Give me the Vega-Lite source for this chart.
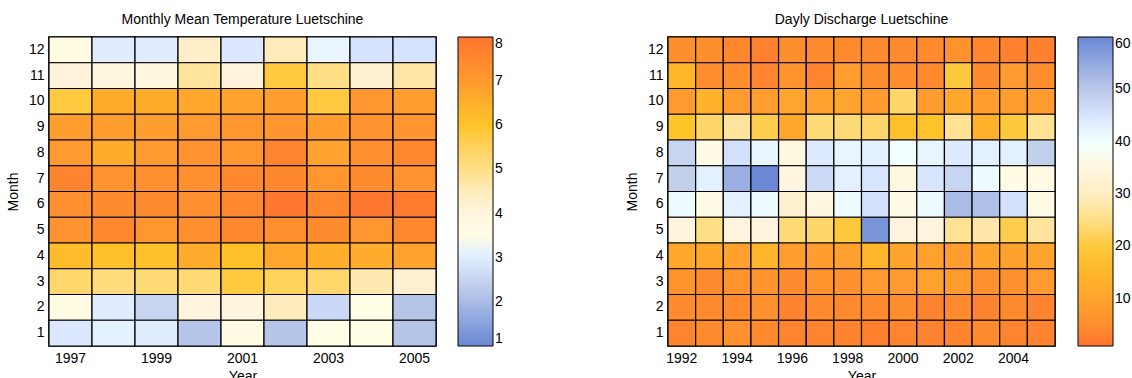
{
  "$schema": "https://vega.github.io/schema/vega-lite/v6.json",
  "padding": {"left": 5, "top": 12, "right": 0, "bottom": 0},
  "datasets": {
    "temp": [
      {"year":1997,"month":12,"t":3.7},{"year":1998,"month":12,"t":3.0},{"year":1999,"month":12,"t":3.0},{"year":2000,"month":12,"t":4.4},{"year":2001,"month":12,"t":2.9},{"year":2002,"month":12,"t":4.5},{"year":2003,"month":12,"t":3.2},{"year":2004,"month":12,"t":2.8},{"year":2005,"month":12,"t":2.8},
      {"year":1997,"month":11,"t":4.2},{"year":1998,"month":11,"t":4.0},{"year":1999,"month":11,"t":3.9},{"year":2000,"month":11,"t":4.8},{"year":2001,"month":11,"t":4.2},{"year":2002,"month":11,"t":5.8},{"year":2003,"month":11,"t":5.0},{"year":2004,"month":11,"t":4.3},{"year":2005,"month":11,"t":4.7},
      {"year":1997,"month":10,"t":5.8},{"year":1998,"month":10,"t":6.6},{"year":1999,"month":10,"t":6.6},{"year":2000,"month":10,"t":6.7},{"year":2001,"month":10,"t":6.8},{"year":2002,"month":10,"t":6.9},{"year":2003,"month":10,"t":5.8},{"year":2004,"month":10,"t":7.1},{"year":2005,"month":10,"t":6.9},
      {"year":1997,"month":9,"t":6.9},{"year":1998,"month":9,"t":6.9},{"year":1999,"month":9,"t":6.9},{"year":2000,"month":9,"t":7.0},{"year":2001,"month":9,"t":7.1},{"year":2002,"month":9,"t":7.1},{"year":2003,"month":9,"t":6.9},{"year":2004,"month":9,"t":7.2},{"year":2005,"month":9,"t":7.1},
      {"year":1997,"month":8,"t":7.0},{"year":1998,"month":8,"t":6.6},{"year":1999,"month":8,"t":7.0},{"year":2000,"month":8,"t":7.2},{"year":2001,"month":8,"t":7.1},{"year":2002,"month":8,"t":7.6},{"year":2003,"month":8,"t":6.8},{"year":2004,"month":8,"t":7.3},{"year":2005,"month":8,"t":7.5},
      {"year":1997,"month":7,"t":7.6},{"year":1998,"month":7,"t":7.2},{"year":1999,"month":7,"t":7.3},{"year":2000,"month":7,"t":7.3},{"year":2001,"month":7,"t":7.5},{"year":2002,"month":7,"t":7.5},{"year":2003,"month":7,"t":7.1},{"year":2004,"month":7,"t":7.4},{"year":2005,"month":7,"t":7.2},
      {"year":1997,"month":6,"t":7.3},{"year":1998,"month":6,"t":7.4},{"year":1999,"month":6,"t":7.4},{"year":2000,"month":6,"t":7.3},{"year":2001,"month":6,"t":7.5},{"year":2002,"month":6,"t":7.9},{"year":2003,"month":6,"t":7.5},{"year":2004,"month":6,"t":7.9},{"year":2005,"month":6,"t":7.8},
      {"year":1997,"month":5,"t":7.2},{"year":1998,"month":5,"t":7.5},{"year":1999,"month":5,"t":7.1},{"year":2000,"month":5,"t":7.3},{"year":2001,"month":5,"t":7.5},{"year":2002,"month":5,"t":7.3},{"year":2003,"month":5,"t":7.4},{"year":2004,"month":5,"t":7.1},{"year":2005,"month":5,"t":7.5},
      {"year":1997,"month":4,"t":6.2},{"year":1998,"month":4,"t":6.1},{"year":1999,"month":4,"t":6.1},{"year":2000,"month":4,"t":6.6},{"year":2001,"month":4,"t":6.1},{"year":2002,"month":4,"t":6.7},{"year":2003,"month":4,"t":6.5},{"year":2004,"month":4,"t":6.6},{"year":2005,"month":4,"t":6.8},
      {"year":1997,"month":3,"t":5.3},{"year":1998,"month":3,"t":5.1},{"year":1999,"month":3,"t":5.2},{"year":2000,"month":3,"t":5.2},{"year":2001,"month":3,"t":5.8},{"year":2002,"month":3,"t":5.5},{"year":2003,"month":3,"t":5.3},{"year":2004,"month":3,"t":4.6},{"year":2005,"month":3,"t":4.3},
      {"year":1997,"month":2,"t":3.7},{"year":1998,"month":2,"t":3.0},{"year":1999,"month":2,"t":2.5},{"year":2000,"month":2,"t":4.1},{"year":2001,"month":2,"t":4.1},{"year":2002,"month":2,"t":4.5},{"year":2003,"month":2,"t":2.6},{"year":2004,"month":2,"t":3.4},{"year":2005,"month":2,"t":2.2},
      {"year":1997,"month":1,"t":2.9},{"year":1998,"month":1,"t":3.1},{"year":1999,"month":1,"t":3.0},{"year":2000,"month":1,"t":2.2},{"year":2001,"month":1,"t":3.6},{"year":2002,"month":1,"t":2.2},{"year":2003,"month":1,"t":3.45},{"year":2004,"month":1,"t":3.4},{"year":2005,"month":1,"t":2.2}
    ],
    "discharge": [
      {"year":1992,"month":12,"q":5},{"year":1993,"month":12,"q":5},{"year":1994,"month":12,"q":4},{"year":1995,"month":12,"q":3},{"year":1996,"month":12,"q":5},{"year":1997,"month":12,"q":4.5},{"year":1998,"month":12,"q":4.5},{"year":1999,"month":12,"q":4.5},{"year":2000,"month":12,"q":4.5},{"year":2001,"month":12,"q":4.5},{"year":2002,"month":12,"q":6},{"year":2003,"month":12,"q":4},{"year":2004,"month":12,"q":3},{"year":2005,"month":12,"q":3},
      {"year":1992,"month":11,"q":15},{"year":1993,"month":11,"q":5},{"year":1994,"month":11,"q":5},{"year":1995,"month":11,"q":3.5},{"year":1996,"month":11,"q":6},{"year":1997,"month":11,"q":3.5},{"year":1998,"month":11,"q":8},{"year":1999,"month":11,"q":5},{"year":2000,"month":11,"q":5},{"year":2001,"month":11,"q":4.5},{"year":2002,"month":11,"q":20},{"year":2003,"month":11,"q":4.5},{"year":2004,"month":11,"q":7},{"year":2005,"month":11,"q":5},
      {"year":1992,"month":10,"q":7},{"year":1993,"month":10,"q":14},{"year":1994,"month":10,"q":7.5},{"year":1995,"month":10,"q":8},{"year":1996,"month":10,"q":10},{"year":1997,"month":10,"q":9},{"year":1998,"month":10,"q":10},{"year":1999,"month":10,"q":7.5},{"year":2000,"month":10,"q":23},{"year":2001,"month":10,"q":7.5},{"year":2002,"month":10,"q":11},{"year":2003,"month":10,"q":8},{"year":2004,"month":10,"q":8},{"year":2005,"month":10,"q":7.5},
      {"year":1992,"month":9,"q":19},{"year":1993,"month":9,"q":23},{"year":1994,"month":9,"q":27},{"year":1995,"month":9,"q":21},{"year":1996,"month":9,"q":11},{"year":1997,"month":9,"q":24},{"year":1998,"month":9,"q":24},{"year":1999,"month":9,"q":23},{"year":2000,"month":9,"q":18},{"year":2001,"month":9,"q":19},{"year":2002,"month":9,"q":26},{"year":2003,"month":9,"q":14},{"year":2004,"month":9,"q":20},{"year":2005,"month":9,"q":26},
      {"year":1992,"month":8,"q":48},{"year":1993,"month":8,"q":38},{"year":1994,"month":8,"q":46},{"year":1995,"month":8,"q":42},{"year":1996,"month":8,"q":36},{"year":1997,"month":8,"q":44},{"year":1998,"month":8,"q":42},{"year":1999,"month":8,"q":43},{"year":2000,"month":8,"q":40},{"year":2001,"month":8,"q":42},{"year":2002,"month":8,"q":44},{"year":2003,"month":8,"q":43},{"year":2004,"month":8,"q":43},{"year":2005,"month":8,"q":49},
      {"year":1992,"month":7,"q":49},{"year":1993,"month":7,"q":43},{"year":1994,"month":7,"q":54},{"year":1995,"month":7,"q":60},{"year":1996,"month":7,"q":34},{"year":1997,"month":7,"q":47},{"year":1998,"month":7,"q":43},{"year":1999,"month":7,"q":45},{"year":2000,"month":7,"q":36},{"year":2001,"month":7,"q":45},{"year":2002,"month":7,"q":48},{"year":2003,"month":7,"q":41},{"year":2004,"month":7,"q":38},{"year":2005,"month":7,"q":38},
      {"year":1992,"month":6,"q":41},{"year":1993,"month":6,"q":38},{"year":1994,"month":6,"q":43},{"year":1995,"month":6,"q":41},{"year":1996,"month":6,"q":31},{"year":1997,"month":6,"q":34},{"year":1998,"month":6,"q":41},{"year":1999,"month":6,"q":46},{"year":2000,"month":6,"q":38},{"year":2001,"month":6,"q":41},{"year":2002,"month":6,"q":52},{"year":2003,"month":6,"q":51.5},{"year":2004,"month":6,"q":46},{"year":2005,"month":6,"q":38},
      {"year":1992,"month":5,"q":33},{"year":1993,"month":5,"q":25},{"year":1994,"month":5,"q":33},{"year":1995,"month":5,"q":33},{"year":1996,"month":5,"q":24},{"year":1997,"month":5,"q":23},{"year":1998,"month":5,"q":20},{"year":1999,"month":5,"q":58},{"year":2000,"month":5,"q":33},{"year":2001,"month":5,"q":33},{"year":2002,"month":5,"q":26},{"year":2003,"month":5,"q":28},{"year":2004,"month":5,"q":21},{"year":2005,"month":5,"q":27},
      {"year":1992,"month":4,"q":11},{"year":1993,"month":4,"q":11},{"year":1994,"month":4,"q":9},{"year":1995,"month":4,"q":15},{"year":1996,"month":4,"q":8},{"year":1997,"month":4,"q":8},{"year":1998,"month":4,"q":9},{"year":1999,"month":4,"q":15},{"year":2000,"month":4,"q":10},{"year":2001,"month":4,"q":9},{"year":2002,"month":4,"q":8},{"year":2003,"month":4,"q":10},{"year":2004,"month":4,"q":9},{"year":2005,"month":4,"q":10},
      {"year":1992,"month":3,"q":6},{"year":1993,"month":3,"q":4.5},{"year":1994,"month":3,"q":6},{"year":1995,"month":3,"q":6},{"year":1996,"month":3,"q":4.5},{"year":1997,"month":3,"q":6},{"year":1998,"month":3,"q":5.5},{"year":1999,"month":3,"q":7},{"year":2000,"month":3,"q":7},{"year":2001,"month":3,"q":9},{"year":2002,"month":3,"q":7.5},{"year":2003,"month":3,"q":5.5},{"year":2004,"month":3,"q":5.5},{"year":2005,"month":3,"q":7},
      {"year":1992,"month":2,"q":4.5},{"year":1993,"month":2,"q":4.5},{"year":1994,"month":2,"q":4.5},{"year":1995,"month":2,"q":5.5},{"year":1996,"month":2,"q":3.5},{"year":1997,"month":2,"q":4.5},{"year":1998,"month":2,"q":4.5},{"year":1999,"month":2,"q":4.5},{"year":2000,"month":2,"q":5},{"year":2001,"month":2,"q":3.5},{"year":2002,"month":2,"q":4.5},{"year":2003,"month":2,"q":3.5},{"year":2004,"month":2,"q":4.5},{"year":2005,"month":2,"q":3.5},
      {"year":1992,"month":1,"q":3.5},{"year":1993,"month":1,"q":4.5},{"year":1994,"month":1,"q":5.5},{"year":1995,"month":1,"q":4.5},{"year":1996,"month":1,"q":3.5},{"year":1997,"month":1,"q":3.5},{"year":1998,"month":1,"q":3.5},{"year":1999,"month":1,"q":3},{"year":2000,"month":1,"q":3.5},{"year":2001,"month":1,"q":3.5},{"year":2002,"month":1,"q":3.5},{"year":2003,"month":1,"q":4.5},{"year":2004,"month":1,"q":3.5},{"year":2005,"month":1,"q":3.5}
    ]
  },
  "hconcat": [
    {
      "data": {"name": "temp"},
      "title": "Monthly Mean Temperature Luetschine",
      "width": 387,
      "height": 309,
      "mark": {"type": "rect", "stroke": "black", "strokeWidth": 1.2},
      "encoding": {
        "x": {"field": "year", "type": "ordinal", "title": "Year", "axis": {"values": [1997, 1999, 2001, 2003, 2005], "labelAngle": 0}},
        "y": {"field": "month", "type": "ordinal", "sort": "descending", "title": "Month"},
        "color": {
          "field": "t", "type": "quantitative",
          "scale": {"domain": [1, 2.4, 3.4, 4.2, 5, 6, 7, 8], "range": ["#6a88d4", "#c3d0ec", "#ffffff", "#fff3dc", "#ffdf85", "#ffc42a", "#ff9a30", "#ff7430"]},
          "legend": {"orient": "none", "legendX": 409, "legendY": 0, "direction": "vertical", "gradientLength": 309, "gradientThickness": 35, "title": null, "values": [1, 2, 3, 4, 5, 6, 7, 8], "labelOverlap": false}
        }
      }
    },
    {
      "data": {"name": "discharge"},
      "title": "Dayly Discharge Luetschine",
      "width": 387,
      "height": 309,
      "mark": {"type": "rect", "stroke": "black", "strokeWidth": 1.2},
      "encoding": {
        "x": {"field": "year", "type": "ordinal", "title": "Year", "axis": {"values": [1992, 1994, 1996, 1998, 2000, 2002, 2004], "labelAngle": 0}},
        "y": {"field": "month", "type": "ordinal", "sort": "descending", "title": "Month"},
        "color": {
          "field": "q", "type": "quantitative",
          "scale": {"domain": [1, 7, 19, 25, 32, 40, 49, 60], "range": ["#ff7430", "#ff9a30", "#ffc42a", "#ffdf85", "#fff3dc", "#ffffff", "#c3d0ec", "#6a88d4"]},
          "legend": {"orient": "none", "legendX": 410, "legendY": 0, "direction": "vertical", "gradientLength": 309, "gradientThickness": 35, "title": null, "values": [10, 20, 30, 40, 50, 60], "labelOverlap": false}
        }
      }
    }
  ],
  "spacing": 120,
  "resolve": {"scale": {"color": "independent"}},
  "config": {
    "font": "Liberation Sans",
    "view": {"stroke": "black", "strokeWidth": 1.5},
    "title": {"fontSize": 14, "fontWeight": "normal", "color": "black", "offset": 9},
    "axis": {"labelFontSize": 14, "labelColor": "black", "titleFontSize": 14, "titleFontWeight": "normal", "titleColor": "black", "ticks": false, "domain": false, "labelPadding": 5, "titlePadding": 4},
    "axisY": {"titlePadding": 8},
    "legend": {"labelFontSize": 14, "labelColor": "black", "gradientStrokeColor": "black", "gradientStrokeWidth": 1, "labelOffset": 3, "labelBaseline": "middle"}
  }
}
